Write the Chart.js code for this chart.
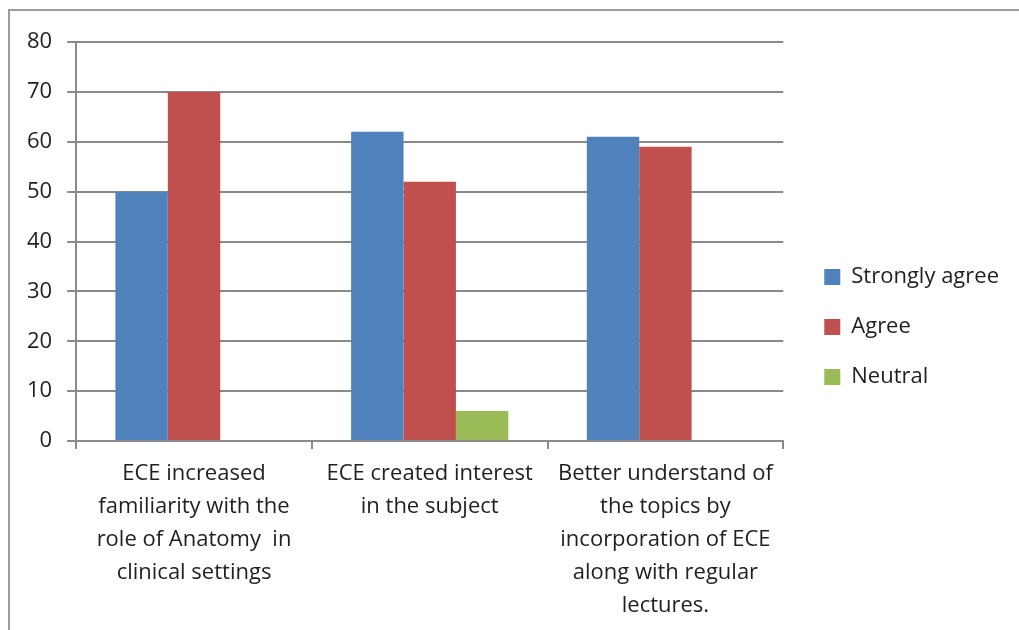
<!DOCTYPE html>
<html>
<head>
<meta charset="utf-8">
<script src="https://cdn.jsdelivr.net/npm/chart.js@4/dist/chart.umd.min.js"></script>
<style>
  html, body { margin: 0; padding: 0; background: #fff; }
  #wrap { position: relative; width: 1019px; height: 630px; }
  #frame { position: absolute; left: 8px; top: 9px; right: 0; bottom: 0;
           border-left: 2px solid #9a9a9a; border-top: 2px solid #9a9a9a; pointer-events: none; }
</style>
</head>
<body>
<div id="wrap">
  <canvas id="chart-survey"></canvas>
  <div id="frame"></div>
</div>
<script>
  const categories = [
    ['ECE increased', 'familiarity with the', 'role of Anatomy  in', 'clinical settings'],
    ['ECE created interest', 'in the subject'],
    ['Better understand of', 'the topics by', 'incorporation of ECE', 'along with regular', 'lectures.'],
  ];
  const stronglyAgree = [50, 62, 61];
  const agree = [70, 52, 59];
  const neutral = [0, 6, 0];

  const GRID = '#8a8a8a';
  const TEXT = '#1f1f1f';
  const FONT = "'Open Sans', sans-serif";

  // nudge the legend so its items sit where the original had them
  const legendShift = {
    id: 'legendShift',
    afterLayout(chart) {
      const l = chart.legend;
      if (!l) return;
      l.left += 13;
      l.right += 13;
      l.top -= 9;
      l.bottom -= 9;
    },
  };

  new Chart(document.getElementById('chart-survey'), {
    type: 'bar',
    data: {
      labels: categories,
      datasets: [
        { label: 'Strongly agree', data: stronglyAgree, backgroundColor: '#4f81bd' },
        { label: 'Agree', data: agree, backgroundColor: '#c0504d' },
        { label: 'Neutral', data: neutral, backgroundColor: '#9bbb59' },
      ],
    },
    options: {
      responsive: true,
      maintainAspectRatio: false,
      animation: false,
      categoryPercentage: 0.667,
      barPercentage: 1,
      layout: { padding: { left: 12, top: 42, right: 23, bottom: 0 } },
      plugins: {
        tooltip: { enabled: false },
        legend: {
          position: 'right',
          labels: {
            color: TEXT,
            boxWidth: 16,
            boxHeight: 16,
            padding: 28,
            font: { family: FONT, size: 22 },
          },
        },
      },
      scales: {
        x: {
          grid: { drawOnChartArea: false, color: GRID, lineWidth: 2, tickLength: 8 },
          border: { color: GRID, width: 2 },
          ticks: {
            color: TEXT,
            maxRotation: 0,
            autoSkip: false,
            padding: 8,
            font: { family: FONT, size: 22, lineHeight: 1.5 },
          },
        },
        y: {
          min: 0,
          max: 80,
          ticks: { stepSize: 10, color: TEXT, padding: 15, font: { family: FONT, size: 22 } },
          grid: { color: GRID, lineWidth: 2, tickLength: 9 },
          border: { color: GRID, width: 2 },
        },
      },
    },
    plugins: [legendShift],
  });
</script>
</body>
</html>
